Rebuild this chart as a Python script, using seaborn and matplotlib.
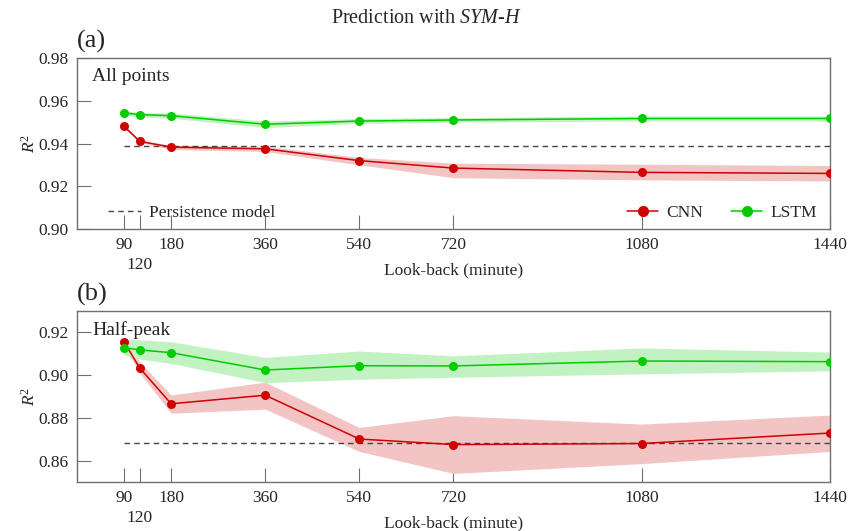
import numpy as np
import pandas as pd
import matplotlib
matplotlib.use("Agg")
import matplotlib.pyplot as plt
import seaborn as sns
from matplotlib.lines import Line2D

sns.set_theme(style="white")
plt.rcParams['font.family'] = ['Liberation Serif', 'DejaVu Serif']
plt.rcParams['mathtext.fontset'] = 'custom'
plt.rcParams['mathtext.rm'] = 'Liberation Serif'
plt.rcParams['mathtext.it'] = 'Liberation Serif:italic'

lookback = [90, 120, 180, 360, 540, 720, 1080, 1440]
major_ticks = [90, 180, 360, 540, 720, 1080, 1440]
major_labels = ["90", "180", "360", "540", "720", "1080", "1440"]
minor_ticks = [120]
minor_labels = ["120"]

# Panel (a): All points
a_cnn = [0.948, 0.941, 0.9383, 0.9375, 0.932, 0.9285, 0.9265, 0.926]
a_cnn_lo = [0.9475, 0.9405, 0.9372, 0.9363, 0.9300, 0.9240, 0.9230, 0.9225]
a_cnn_hi = [0.9486, 0.9416, 0.9392, 0.9387, 0.9335, 0.9308, 0.9303, 0.9297]
a_lstm = [0.9543, 0.9535, 0.953, 0.949, 0.9505, 0.951, 0.9517, 0.9517]
a_lstm_lo = [0.9533, 0.9524, 0.9518, 0.9475, 0.9494, 0.9500, 0.9505, 0.9505]
a_lstm_hi = [0.9553, 0.9546, 0.9543, 0.9505, 0.9517, 0.9521, 0.9529, 0.9529]
a_persist = 0.9388

# Panel (b): Half-peak
b_cnn = [0.9155, 0.9033, 0.8866, 0.8906, 0.8701, 0.8675, 0.868, 0.8729]
b_cnn_lo = [0.9135, 0.9010, 0.8822, 0.8841, 0.8643, 0.8540, 0.8586, 0.8643]
b_cnn_hi = [0.9172, 0.9060, 0.8907, 0.8967, 0.8755, 0.8810, 0.8771, 0.8813]
b_lstm = [0.9128, 0.9118, 0.9105, 0.9024, 0.9044, 0.9043, 0.9066, 0.9063]
b_lstm_lo = [0.9094, 0.9075, 0.9055, 0.8965, 0.8981, 0.8990, 0.9006, 0.9020]
b_lstm_hi = [0.9169, 0.9165, 0.9156, 0.9083, 0.9113, 0.9090, 0.9127, 0.9108]
b_persist = 0.8684

CNN_C = "#d00000"
LSTM_C = "#00cc00"
CNN_F = "#f2c4c4"
LSTM_F = "#c2f2c2"
SPINE = "#707070"
DASH = (0, (4, 3))

fig = plt.figure(figsize=(8.52, 5.31), dpi=100)
ax1 = fig.add_axes([0.0904, 0.5687, 0.8836, 0.3221])
ax2 = fig.add_axes([0.0904, 0.0923, 0.8836, 0.3220])

panels = [
    (ax1, a_cnn, a_cnn_lo, a_cnn_hi, a_lstm, a_lstm_lo, a_lstm_hi, a_persist,
     (0.90, 0.98), [0.90, 0.92, 0.94, 0.96, 0.98], "All points", "(a)"),
    (ax2, b_cnn, b_cnn_lo, b_cnn_hi, b_lstm, b_lstm_lo, b_lstm_hi, b_persist,
     (0.85, 0.93), [0.86, 0.88, 0.90, 0.92], "Half-peak", "(b)"),
]

for (ax, cnn, cnn_lo, cnn_hi, lstm, lstm_lo, lstm_hi, pers, ylim, yticks, label, tag) in panels:
    ax.fill_between(lookback, cnn_lo, cnn_hi, color=CNN_F, lw=0, zorder=1)
    ax.fill_between(lookback, lstm_lo, lstm_hi, color=LSTM_F, lw=0, zorder=1)
    ax.plot([lookback[0], lookback[-1]], [pers, pers], ls=DASH, color="#444444", lw=1.0, zorder=2)
    df = pd.DataFrame({
        "x": lookback * 2,
        "y": cnn + lstm,
        "model": ["CNN"] * len(lookback) + ["LSTM"] * len(lookback),
    })
    sns.lineplot(data=df, x="x", y="y", hue="model", palette={"CNN": CNN_C, "LSTM": LSTM_C},
                 marker="o", markersize=6.5, markeredgewidth=0, linewidth=1.1, ax=ax,
                 legend=False, zorder=3)
    ax.set_xlim(0, 1440)
    ax.set_ylim(*ylim)
    ax.set_yticks(yticks)
    ax.set_yticklabels([f"{v:.2f}" for v in yticks])
    ax.set_xticks(major_ticks)
    ax.set_xticklabels(major_labels)
    ax.set_xticks(minor_ticks, minor=True)
    ax.set_xticklabels(minor_labels, minor=True)
    ax.tick_params(axis="both", which="major", direction="in", length=10, width=0.8, color=SPINE,
                   labelsize=12.5, pad=6, bottom=True, left=True)
    ax.tick_params(axis="x", which="minor", direction="in", length=10, width=0.8, color=SPINE,
                   labelsize=12.5, pad=20, bottom=True)
    for s in ax.spines.values():
        s.set_color(SPINE)
        s.set_linewidth(1.0)
    ax.set_xlabel("Look-back (minute)", fontsize=12.5)
    ax.xaxis.set_label_coords(0.5, -0.195)
    ax.set_ylabel("$R^2$", fontsize=12.5, labelpad=0)
    ax.text(0.02, 0.94, label, transform=ax.transAxes, fontsize=14, va="top", ha="left")
    ax.text(0.0, 1.03, tag, transform=ax.transAxes, fontsize=19, va="bottom", ha="left")

    h1 = [Line2D([], [], color="#444444", ls=DASH, lw=1.0)]
    leg1 = ax.legend(h1, ["Persistence model"], loc="lower left", frameon=False,
                     fontsize=12.5, handlelength=1.9, handletextpad=0.45,
                     bbox_to_anchor=(0.02, -0.045))
    if ax is ax1:
        ax.add_artist(leg1)
        h2 = [Line2D([], [], color=CNN_C, marker="o", markersize=8, lw=1.1, markeredgewidth=0),
              Line2D([], [], color=LSTM_C, marker="o", markersize=8, lw=1.1, markeredgewidth=0)]
        ax.legend(h2, ["CNN", "LSTM"], loc="lower right", ncol=2, frameon=False,
                  fontsize=12.5, handlelength=1.8, handletextpad=0.45, columnspacing=1.6,
                  bbox_to_anchor=(1.003, -0.045))
    else:
        leg1.remove()

fig.text(0.5, 0.965, "Prediction with $\\it{SYM}$-$\\it{H}$", ha="center", va="center", fontsize=14.5)

fig.savefig("out.png", dpi=100)
